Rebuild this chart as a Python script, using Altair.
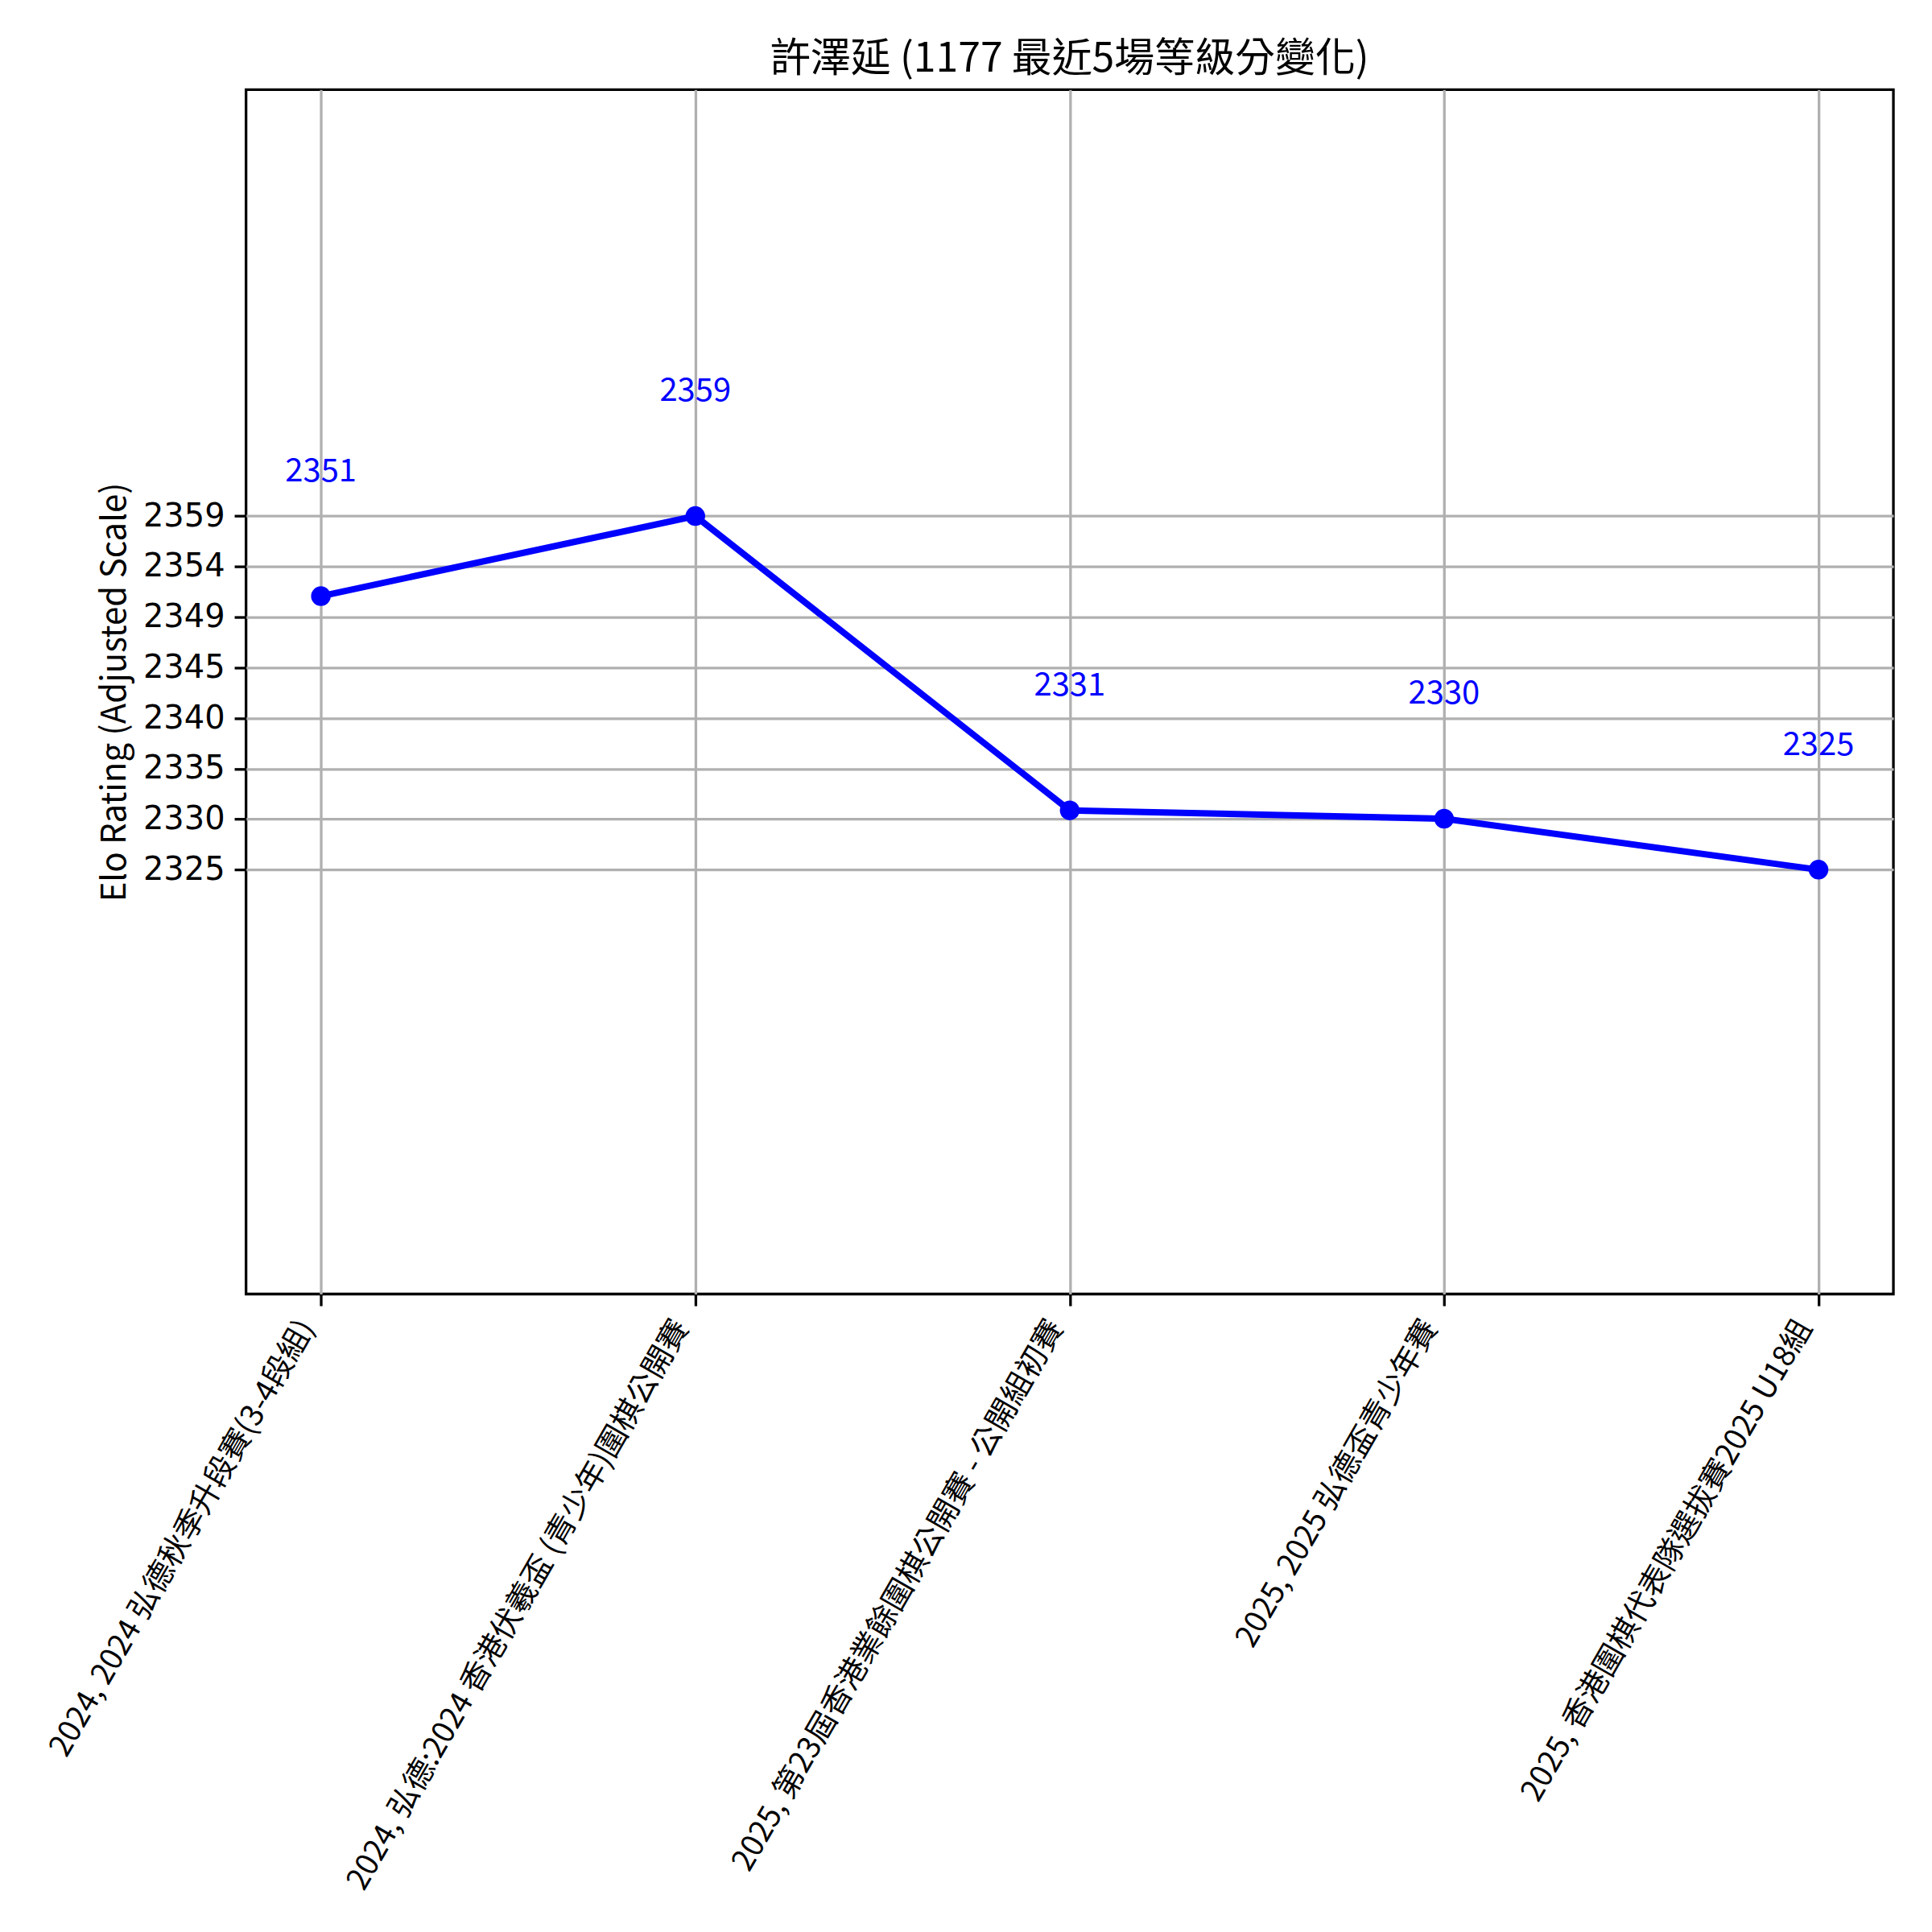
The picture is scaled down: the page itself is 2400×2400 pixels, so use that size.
import altair as alt
import pandas as pd

events = [
    "2024, 2024 弘德秋季升段賽(3-4段組)",
    "2024, 弘德:2024 香港伏羲盃 (青少年)圍棋公開賽",
    "2025, 第23屆香港業餘圍棋公開賽 - 公開組初賽",
    "2025, 2025 弘德盃青少年賽",
    "2025, 香港圍棋代表隊選拔賽2025 U18組",
]
ratings = [2351.3, 2359.0, 2330.7, 2329.9, 2325.0]
rating_labels = ["2351", "2359", "2331", "2330", "2325"]
ytick_values = [2325, 2329.86, 2334.71, 2339.57, 2344.43, 2349.29, 2354.14, 2359]
ytick_labels = ["2325", "2330", "2335", "2340", "2345", "2349", "2354", "2359"]
y_domain = [2284.2, 2400]

FONT = "Noto Sans CJK TC"

df = pd.DataFrame({"event": events, "rating": ratings, "label": rating_labels})

label_map = "{" + ",".join(f"'{v}':'{l}'" for v, l in zip(ytick_values, ytick_labels)) + "}"

x_enc = alt.X(
    "event:N",
    sort=events,
    scale=alt.Scale(type="point", padding=0.2),
    axis=alt.Axis(
        title=None,
        labelAngle=-60,
        labelAlign="right",
        labelBaseline="middle",
        labelOffset=-17,
        labelPadding=21,
        labelFontSize=38,
        labelFont=FONT,
        labelLimit=2000,
    ),
)
y_enc = alt.Y(
    "rating:Q",
    scale=alt.Scale(domain=y_domain, nice=False, zero=False),
    axis=alt.Axis(
        title="Elo Rating (Adjusted Scale)",
        values=ytick_values,
        labelExpr=f"{label_map}[datum.value]",
        labelFont="DejaVu Sans",
        labelFontSize=40,
        labelPadding=12,
        titleFont=FONT,
        titleFontSize=42,
        titlePadding=13,
    ),
)

base = alt.Chart(df).encode(x=x_enc, y=y_enc)

line = base.mark_line(color="#0000ff", strokeWidth=8)
points = base.mark_point(filled=True, color="#0000ff", size=600, opacity=1, shape="circle")
texts = base.mark_text(color="#0000ff", fontSize=40, dy=-155, baseline="middle", align="center", font=FONT).encode(
    text="label:N"
)

chart = (
    alt.layer(line, points, texts)
    .properties(
        width=2049,
        height=1498,
        autosize=alt.AutoSizeParams(type="none"),
        padding={"left": 298, "top": 102, "right": 40, "bottom": 770},
        title=alt.TitleParams(
            text="許澤延 (1177 最近5場等級分變化)",
            font=FONT,
            fontSize=50,
            fontWeight="normal",
            color="black",
            anchor="middle",
            baseline="alphabetic",
            offset=-28,
        ),
        background="white",
    )
    .configure_view(stroke="black", strokeWidth=3.3)
    .configure_axis(
        domain=False,
        grid=True,
        gridColor="#b0b0b0",
        gridWidth=3.3,
        tickColor="black",
        tickWidth=3.3,
        tickSize=14.6,
        labelColor="black",
        titleColor="black",
        titleFontWeight="normal",
    )
)

chart.save("out.html", embed_options={"renderer": "svg", "actions": False})
